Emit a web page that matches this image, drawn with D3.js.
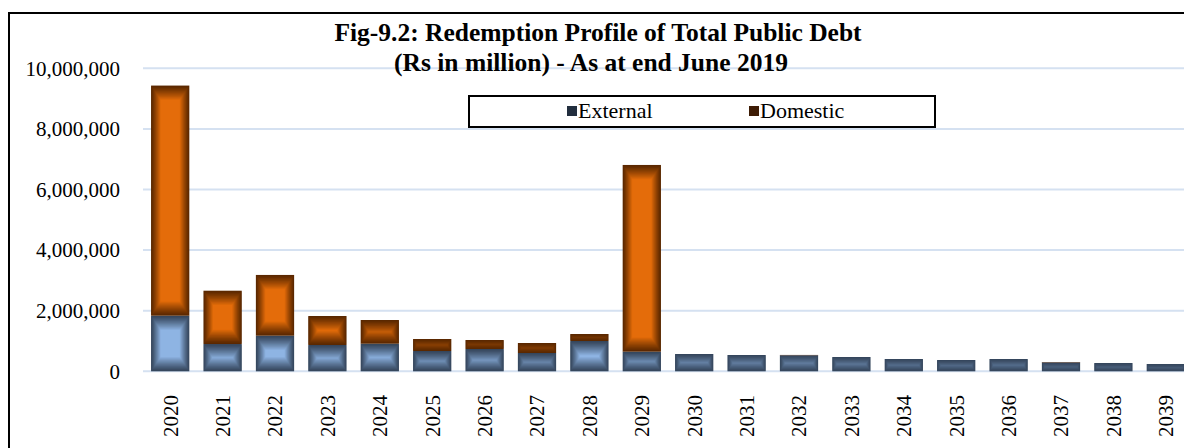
<!DOCTYPE html>
<html>
<head>
<meta charset="utf-8">
<script src="https://cdn.jsdelivr.net/npm/d3@7"></script>
<style>
  body { margin: 0; background: #fff; }
  svg text { font-family: "Liberation Serif", "Times New Roman", serif; fill: #000; }
</style>
</head>
<body>
<script>
const w = 1184;
const h = 448;

const years = ['2020', '2021', '2022', '2023', '2024', '2025', '2026', '2027', '2028', '2029',
	'2030', '2031', '2032', '2033', '2034', '2035', '2036', '2037', '2038', '2039'];
const external = [1835000, 900000, 1175000, 868000, 910000, 670000, 736000, 604000, 1000000, 647000,
	571000, 538000, 530000, 472000, 406000, 373000, 406000, 295000, 274000, 241000];
const domestic = [7595000, 1760000, 2005000, 957000, 783000, 396000, 297000, 330000, 231000, 6163000,
	0, 0, 10000, 0, 0, 0, 0, 12000, 0, 0];
const yTicks = [0, 2000000, 4000000, 6000000, 8000000, 10000000];
const seriesNames = ['External', 'Domestic'];

// edge / centre colours of the shaded bars
const shades = {
	External: { edge: '#35465c', centre: '#8eb4e3', key: '#222e3e' },
	Domestic: { edge: '#5a2800', centre: '#e46c0a', key: '#3e1c05' }
};

const svg = d3.select('body').append('svg')
	.attr('width', w)
	.attr('height', h);

// outer frame (cut off at right and bottom like the original)
svg.append('rect')
	.attr('x', 9).attr('y', 13)
	.attr('width', w + 20).attr('height', h + 20)
	.attr('fill', 'none')
	.attr('stroke', '#000')
	.attr('stroke-width', 2);

const x = d3.scaleBand()
	.domain(years)
	.range([144, 1192])
	.paddingInner(0.27)
	.paddingOuter(0.135);

const y = d3.scaleLinear()
	.domain([0, 10000000])
	.range([371.3, 68.3]);

// gridlines
svg.append('g')
	.selectAll('line')
	.data(yTicks)
	.enter()
	.append('line')
	.attr('x1', 143)
	.attr('x2', 1192)
	.attr('y1', d => y(d))
	.attr('y2', d => y(d))
	.attr('stroke', '#d5e1f1')
	.attr('stroke-width', 2);

const yAxis = svg.append('g')
	.attr('transform', 'translate(120,0)')
	.call(d3.axisLeft(y).tickValues(yTicks).tickSize(0).tickPadding(0).tickFormat(d3.format(',')));
yAxis.select('.domain').remove();
yAxis.selectAll('text')
	.style('font-size', '21px')
	.style('font-family', '"Liberation Serif", "Times New Roman", serif')
	.attr('fill', '#000');

// x labels, rotated
svg.append('g')
	.selectAll('text')
	.data(years)
	.enter()
	.append('text')
	.attr('transform', d => `translate(${x(d) + x.bandwidth() / 2},395) rotate(-90)`)
	.attr('dy', '0.35em')
	.attr('text-anchor', 'end')
	.style('font-size', '21px')
	.text(d => d);

// stacked segments, shaded from the edges towards the centre
const table = years.map((yr, i) => ({ year: yr, External: external[i], Domestic: domestic[i] }));
const stacked = d3.stack().keys(seriesNames)(table);

const steps = 20;
const stepX = 0.5;
const stepY = 0.75;

stacked.forEach(layer => {
	const sh = shades[layer.key];
	const mix = d3.interpolateRgb(sh.edge, sh.centre);
	const segs = svg.append('g').attr('class', 'series-' + layer.key)
		.selectAll('g')
		.data(layer.filter(d => d[1] > d[0]))
		.enter()
		.append('g');

	segs.each(function (d) {
		const g = d3.select(this);
		const x0 = x(d.data.year);
		const bw = x.bandwidth();
		const top = y(d[1]);
		const bottom = y(d[0]);
		for (let i = 0; i < steps; i++) {
			const ix = i * stepX;
			const iy = i * stepY;
			const rw = bw - 2 * ix;
			const rh = bottom - top - 2 * iy;
			if (rw <= 0 || rh <= 0) break;
			g.append('rect')
				.attr('x', x0 + ix)
				.attr('y', top + iy)
				.attr('width', rw)
				.attr('height', rh)
				.attr('fill', mix(Math.pow(i / (steps - 1), 1.15)));
		}
	});
});

// title
const title = svg.append('g').style('font-weight', 'bold').style('font-size', '25.5px');
title.append('text').attr('x', 598).attr('y', 41).attr('text-anchor', 'middle')
	.text('Fig-9.2: Redemption Profile of Total Public Debt');
title.append('text').attr('x', 591).attr('y', 71).attr('text-anchor', 'middle')
	.text('(Rs in million) - As at end June 2019');

// legend
const legend = svg.append('g').attr('id', 'legend');
legend.append('rect')
	.attr('x', 469).attr('y', 96)
	.attr('width', 466).attr('height', 31)
	.attr('fill', '#fff')
	.attr('stroke', '#000')
	.attr('stroke-width', 2);

const legendX = d3.scaleOrdinal().domain(seriesNames).range([567, 749]);
const items = legend.selectAll('g.item')
	.data(seriesNames)
	.enter()
	.append('g')
	.attr('class', 'item')
	.attr('transform', d => `translate(${legendX(d)},106)`);
items.append('rect')
	.attr('width', 10).attr('height', 10)
	.attr('fill', d => shades[d].key);
items.append('text')
	.attr('x', 11).attr('y', 12)
	.style('font-size', '22px')
	.text(d => d);
</script>
</body>
</html>
